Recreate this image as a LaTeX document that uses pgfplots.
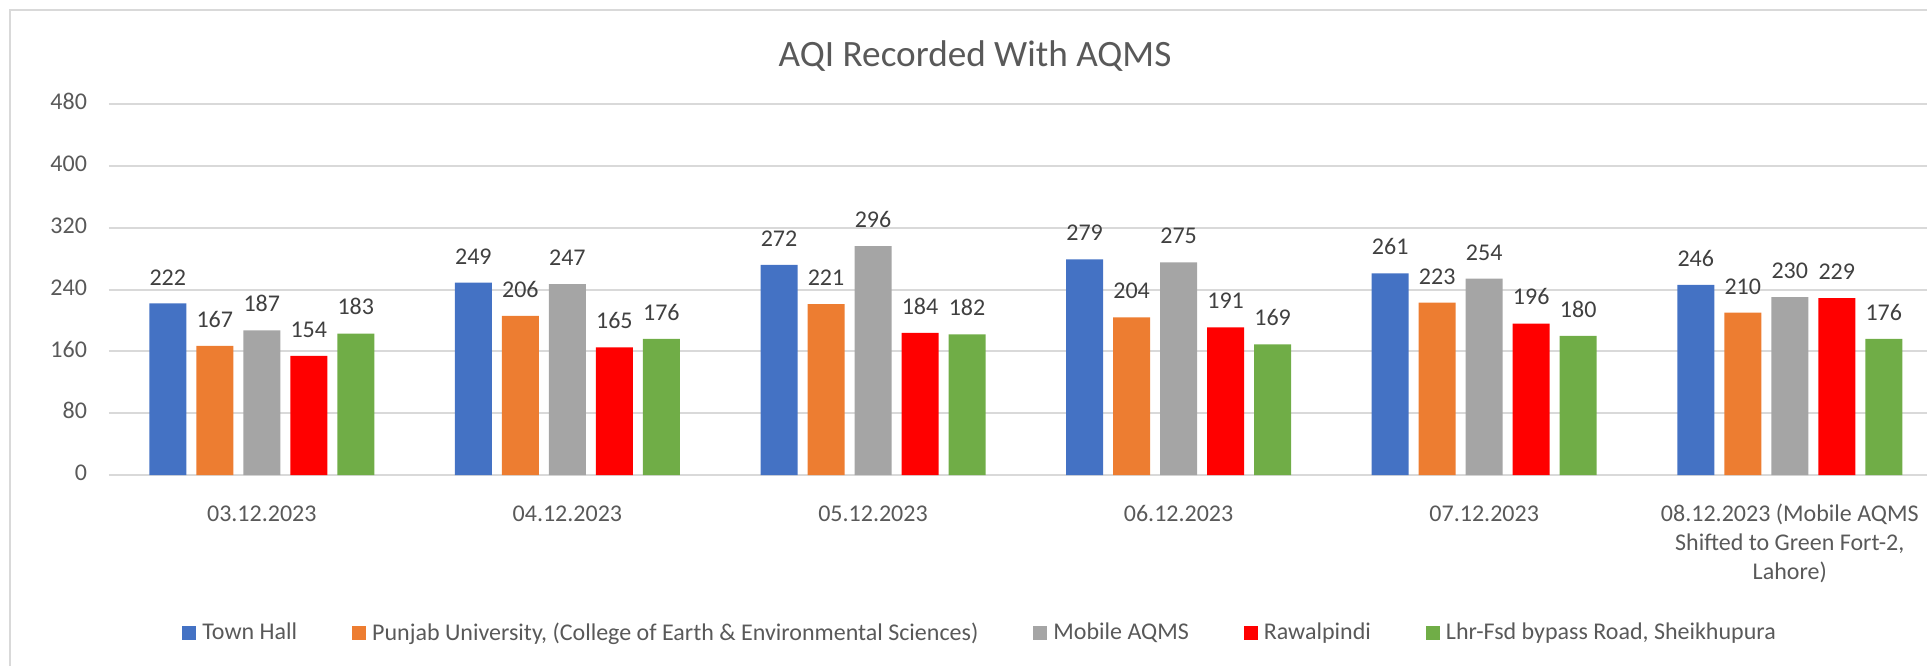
\documentclass[border=0pt]{standalone}
\usepackage{fontspec}
\setmainfont{Carlito}
\usepackage{pgfplots}
\pgfplotsset{compat=1.18}
\definecolor{cBlue}{HTML}{4472C4}
\definecolor{cOrange}{HTML}{ED7D31}
\definecolor{cGray}{HTML}{A5A5A5}
\definecolor{cRed}{HTML}{FF0000}
\definecolor{cGreen}{HTML}{70AD47}
\definecolor{cGrid}{HTML}{D9D9D9}
\definecolor{cText}{HTML}{595959}
\definecolor{cLabel}{HTML}{404040}
\begin{document}
\begin{tikzpicture}
\useasboundingbox (0,0) rectangle (963.5pt,332.5pt);
\begin{scope}
\clip (0,0) rectangle (963.5pt,332.5pt);
\draw[line width=1pt, color=cGrid] (5pt,-10pt) rectangle (990pt,327.5pt);
\node[anchor=base, font=\fontsize{18.6}{22}\selectfont, text=cText, inner sep=0pt] at (487.5pt,299pt) {AQI Recorded With AQMS};
\begin{axis}[
  at={(54.5pt,95pt)}, anchor=south west, scale only axis,
  width=909pt, height=185.5pt,
  ybar=5pt, bar width=18.5pt,
  xmin=-0.5, xmax=5.449, ymin=0, ymax=480,
  ytick={0,80,...,480},
  xtick={0,1,2,3,4,5},
  xticklabels={03.12.2023,04.12.2023,05.12.2023,06.12.2023,07.12.2023,{08.12.2023 (Mobile AQMS\\Shifted to Green Fort-2,\\Lahore)}},
  typeset ticklabels with strut,
  xticklabel style={align=center, font=\fontsize{12}{14.5}\selectfont, text=cText, anchor=north, yshift=-5.35pt},
  yticklabel style={font=\fontsize{12}{14.5}\selectfont, text=cText, xshift=-7.5pt},
  axis line style={draw=none},
  tick style={draw=none},
  ymajorgrids, grid style={line width=1pt, color=cGrid},
  /pgf/number format/assume math mode=true,
  nodes near coords,
  every node near coord/.append style={font=\fontsize{12}{14.5}\selectfont, text=cLabel, inner sep=0pt, yshift=9pt},
  legend columns=5,
  legend style={at={(0.04015,-0.426)}, anchor=west, draw=none, fill=none, inner sep=0pt,
    font=\fontsize{12}{14.5}\selectfont, text=cText,
    nodes={inner sep=0pt},
    /tikz/every odd column/.append style={column sep=3pt},
    /tikz/every even column/.append style={column sep=27.5pt}},
  legend image code/.code={\fill[#1] (0pt,-3.5pt) rectangle (7pt,3.5pt);},
]
\addplot[fill=cBlue, draw=none] coordinates {(0,222) (1,249) (2,272) (3,279) (4,261) (5,246)};
\addplot[fill=cOrange, draw=none] coordinates {(0,167) (1,206) (2,221) (3,204) (4,223) (5,210)};
\addplot[fill=cGray, draw=none] coordinates {(0,187) (1,247) (2,296) (3,275) (4,254) (5,230)};
\addplot[fill=cRed, draw=none] coordinates {(0,154) (1,165) (2,184) (3,191) (4,196) (5,229)};
\addplot[fill=cGreen, draw=none] coordinates {(0,183) (1,176) (2,182) (3,169) (4,180) (5,176)};
\legend{Town Hall, {Punjab University, (College of Earth \& Environmental Sciences)}, Mobile AQMS, Rawalpindi, {Lhr-Fsd bypass Road, Sheikhupura}}
\end{axis}
\end{scope}
\end{tikzpicture}
\end{document}
